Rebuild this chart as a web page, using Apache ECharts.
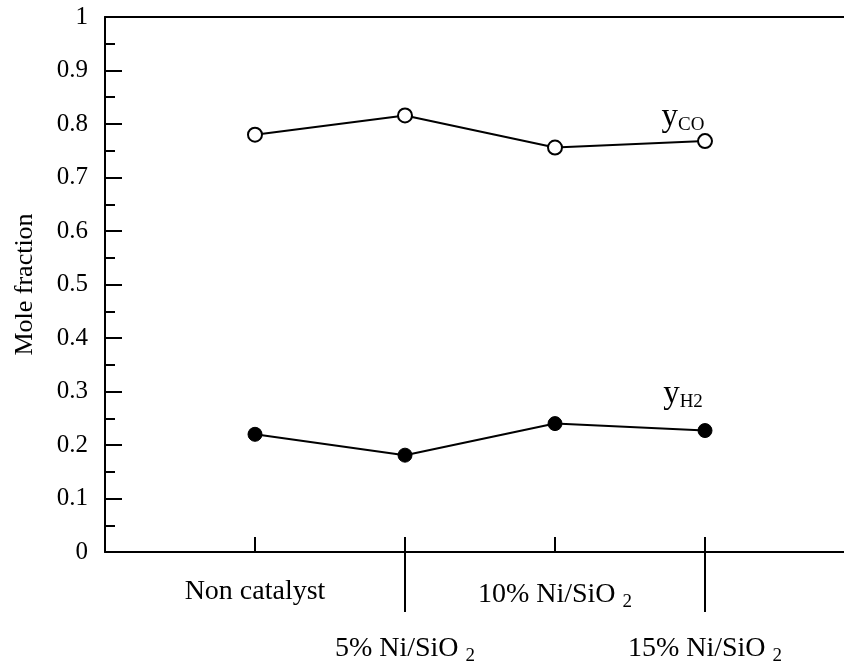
<!DOCTYPE html>
<html>
<head>
<meta charset="utf-8">
<script src="https://cdn.jsdelivr.net/npm/echarts@6/dist/echarts.min.js"></script>
<style>
  html, body { margin: 0; padding: 0; background: #fff; }
  #chart { width: 844px; height: 664px; }
</style>
</head>
<body>
<div id="chart"></div>
<script>
// Catalysts along the x axis (upper and lower label rows alternate)
const categories = ['Non catalyst', '5% Ni/SiO 2', '10% Ni/SiO 2', '15% Ni/SiO 2'];
// Gas composition for each catalyst
const yCO = [0.78, 0.816, 0.756, 0.768];
const yH2 = [0.22, 0.181, 0.24, 0.227];

const FONT = '"Liberation Serif", "DejaVu Serif", serif';
const positions = categories.map((_, i) => i + 1);
const upperRow = positions.filter((_, i) => i % 2 === 0);
const lowerRow = positions.filter((_, i) => i % 2 === 1);

function catLabel(v) {
  const name = categories[Math.round(v) - 1] || '';
  const m = name.match(/^(.*) (\d)$/);
  return m ? m[1] + ' {s|' + m[2] + '}' : name;
}

const labelRich = {
  s: { fontFamily: FONT, fontSize: 19, color: '#000', padding: [15, 0, 0, 0] }
};

// Series name tag (y with subscript) placed next to the last point
function seriesPoints(values, tag, dy) {
  return values.map((v, i) => {
    const item = { value: [positions[i], v] };
    if (i === values.length - 1) {
      item.label = {
        show: true,
        position: 'top',
        offset: [-22, dy],
        formatter: '{y|y}{s|' + tag + '}',
        rich: {
          y: { fontFamily: FONT, fontSize: 33, color: '#000' },
          s: { fontFamily: FONT, fontSize: 19, color: '#000', padding: [14, 0, 0, 0] }
        }
      };
    }
    return item;
  });
}

const chart = echarts.init(document.getElementById('chart'), null, { renderer: 'canvas' });

const axisLine = { show: true, onZero: false, lineStyle: { color: '#000', width: 2 } };

chart.setOption({
  animation: false,
  backgroundColor: '#fff',
  grid: { left: 105, top: 17, right: -11, bottom: 112, outerBoundsMode: 'none' },
  xAxis: [
    {
      type: 'value', min: 0, max: 5, position: 'bottom',
      axisLine: axisLine,
      splitLine: { show: false },
      axisTick: { show: true, inside: true, length: 15, customValues: positions,
        lineStyle: { color: '#000', width: 2 } },
      axisLabel: { show: true, customValues: upperRow, margin: 26, formatter: catLabel,
        fontFamily: FONT, fontSize: 28, color: '#000', rich: labelRich }
    },
    {
      type: 'value', min: 0, max: 5, position: 'bottom',
      axisLine: { show: false, onZero: false },
      splitLine: { show: false },
      axisTick: { show: true, inside: false, length: 60, customValues: lowerRow,
        lineStyle: { color: '#000', width: 2 } },
      axisLabel: { show: true, customValues: lowerRow, margin: 80, formatter: catLabel,
        fontFamily: FONT, fontSize: 28, color: '#000', rich: labelRich }
    },
    {
      type: 'value', min: 0, max: 5, position: 'top',
      axisLine: axisLine,
      axisTick: { show: false }, axisLabel: { show: false }, splitLine: { show: false }
    }
  ],
  yAxis: {
    type: 'value', min: 0, max: 1, interval: 0.1, position: 'left',
    name: 'Mole fraction', nameLocation: 'middle', nameGap: 67,
    nameTextStyle: { fontFamily: FONT, fontSize: 26, color: '#000' },
    axisLine: axisLine,
    splitLine: { show: false },
    axisTick: { show: true, inside: true, length: 17, lineStyle: { color: '#000', width: 2 } },
    minorTick: { show: true, splitNumber: 2, length: 10, lineStyle: { color: '#000', width: 2 } },
    axisLabel: {
      margin: 17, fontFamily: FONT, fontSize: 25, color: '#000',
      formatter: v => String(Math.round(v * 10) / 10)
    }
  },
  series: [
    {
      type: 'line', xAxisIndex: 0, data: seriesPoints(yCO, 'CO', 6),
      symbol: 'circle', symbolSize: 14,
      lineStyle: { color: '#000', width: 2 },
      itemStyle: { color: '#fff', borderColor: '#000', borderWidth: 2 },
      z: 5
    },
    {
      type: 'line', xAxisIndex: 0, data: seriesPoints(yH2, 'H2', -7),
      symbol: 'circle', symbolSize: 14,
      lineStyle: { color: '#000', width: 2 },
      itemStyle: { color: '#000', borderColor: '#000', borderWidth: 1 },
      z: 5
    }
  ]
});
</script>
</body>
</html>
